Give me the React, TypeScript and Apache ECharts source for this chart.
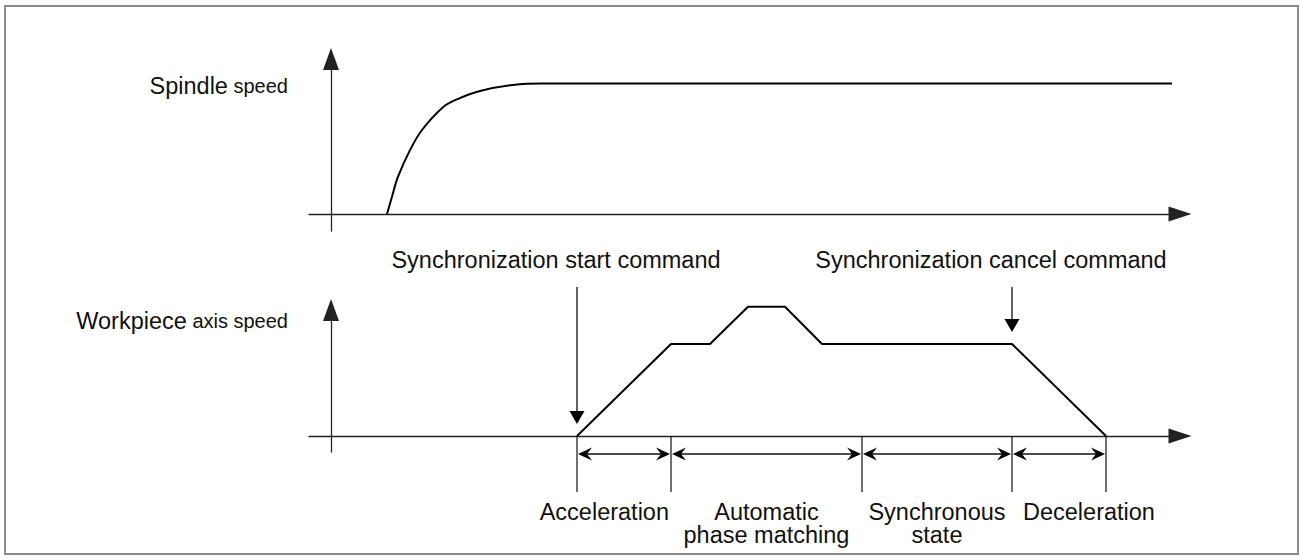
import React, { useEffect, useRef } from "react";
import * as echarts from "echarts";

// ---- data (time in arbitrary units, speed normalised so the steady level = 100) ----
const timeMin = -2.2;
const timeMax = 84.9;

const spindleTime = [5.6, 6.1, 6.7, 7.9, 9.1, 11.2, 12.6, 14.9, 18.2, 21.2, 84.1];
const spindleSpeed = [0, 13.3, 28.6, 49.0, 64.4, 81.8, 87.9, 94.3, 98.9, 100, 100];

const workTime = [24.6, 34.0, 37.9, 41.7, 45.4, 49.1, 68.1, 77.5];
const workSpeed = [0, 100, 100, 140.5, 140.5, 100, 100, 0];

const commandTime = [24.6, 68.1];
const commandSpeed = [0, 100];
const commandNames = ["Synchronization start command", "Synchronization cancel command"];

const phaseBounds = [24.6, 34.0, 53.1, 68.1, 77.5];
const phaseNames = ["Acceleration", "Automatic\nphase matching", "Synchronous\nstate", "Deceleration"];

const spindleRange = [-13, 118.8];
const workRange = [-17.4, 137.0];

const FONT = '"Liberation Sans", Arial, Helvetica, sans-serif';
const AXIS = "#222";
const INK = "#111";

function textStyle(text: string, x: number, y: number, align: string, vAlign: string, extra: any = {}) {
  return {
    text,
    x,
    y,
    align,
    textAlign: align,
    verticalAlign: vAlign,
    textVerticalAlign: vAlign,
    fontFamily: FONT,
    fontSize: 23.5,
    fill: INK,
    ...extra,
  };
}

function buildOption() {
  const axisCommon = {
    type: "value",
    axisTick: { show: false },
    axisLabel: { show: false },
    splitLine: { show: false },
  };
  const xAxes = [0, 1].map((g) => ({
    ...axisCommon,
    gridIndex: g,
    min: timeMin,
    max: timeMax,
    axisLine: {
      show: true,
      onZero: true,
      symbol: ["none", "triangle"],
      symbolSize: [15, 23],
      lineStyle: { color: AXIS, width: 1.3 },
    },
  }));
  const yAxes = [spindleRange, workRange].map((r, g) => ({
    ...axisCommon,
    gridIndex: g,
    min: r[0],
    max: r[1],
    axisLine: {
      show: true,
      onZero: true,
      symbol: ["none", "triangle"],
      symbolSize: [16, 22],
      lineStyle: { color: AXIS, width: 1.3 },
    },
  }));

  const commandSeries = {
    type: "custom",
    name: "commands",
    xAxisIndex: 1,
    yAxisIndex: 1,
    clip: false,
    silent: true,
    data: commandTime.map((t, i) => [t, commandSpeed[i]]),
    encode: { x: 0, y: 1 },
    renderItem: (params: any, api: any) => {
      const t = api.value(0);
      const v = api.value(1);
      const tip = api.coord([t, v]);
      const axisTop = api.coord([t, workRange[1]]);
      const x = tip[0];
      const yTop = axisTop[1] - 23;
      const yTip = tip[1] - 12;
      return {
        type: "group",
        children: [
          {
            type: "line",
            shape: { x1: x, y1: yTop, x2: x, y2: yTip - 10 },
            style: { stroke: INK, lineWidth: 1.3 },
          },
          {
            type: "polygon",
            shape: { points: [[x, yTip], [x - 7.5, yTip - 13], [x + 7.5, yTip - 13]] },
            style: { fill: "#000" },
          },
          {
            type: "text",
            style: textStyle(commandNames[params.dataIndex], x - 21, yTop - 27, "center", "middle"),
          },
        ],
      };
    },
  };

  const lastPhase = phaseNames.length - 1;
  const phaseSeries = {
    type: "custom",
    name: "phases",
    xAxisIndex: 1,
    yAxisIndex: 1,
    clip: false,
    silent: true,
    data: phaseNames.map((_, i) => [phaseBounds[i], phaseBounds[i + 1], i]),
    encode: { x: [0, 1] },
    renderItem: (params: any, api: any) => {
      const i = params.dataIndex;
      const a = api.coord([api.value(0), 0]);
      const b = api.coord([api.value(1), 0]);
      const y0 = a[1];
      const yArr = y0 + 18;
      const yEnd = y0 + 56;
      const xa = a[0] + 1;
      const xb = b[0] - 1;
      const children: any[] = [
        {
          type: "line",
          shape: { x1: a[0], y1: y0, x2: a[0], y2: yEnd },
          style: { stroke: INK, lineWidth: 1.2 },
        },
        {
          type: "line",
          shape: { x1: xa + 4, y1: yArr, x2: xb - 4, y2: yArr },
          style: { stroke: INK, lineWidth: 1.4 },
        },
        {
          type: "polygon",
          shape: { points: [[xa, yArr], [xa + 14, yArr - 6.5], [xa + 9, yArr], [xa + 14, yArr + 6.5]] },
          style: { fill: "#000" },
        },
        {
          type: "polygon",
          shape: { points: [[xb, yArr], [xb - 14, yArr - 6.5], [xb - 9, yArr], [xb - 14, yArr + 6.5]] },
          style: { fill: "#000" },
        },
      ];
      if (i === lastPhase) {
        children.push({
          type: "line",
          shape: { x1: b[0], y1: y0, x2: b[0], y2: yEnd },
          style: { stroke: INK, lineWidth: 1.2 },
        });
      }
      let tx = (a[0] + b[0]) / 2;
      let align = "center";
      if (i === 0) {
        tx = b[0] - 2;
        align = "right";
      } else if (i === lastPhase) {
        tx = a[0] + 11;
        align = "left";
      }
      children.push({
        type: "text",
        style: textStyle(phaseNames[i], tx, y0 + 64, align, "top", { lineHeight: 23.5 }),
      });
      return { type: "group", children };
    },
  };

  const richLabel = {
    big: { fontFamily: FONT, fontSize: 23.5, fill: INK, color: INK },
    small: { fontFamily: FONT, fontSize: 20, fill: INK, color: INK },
  };

  return {
    animation: false,
    backgroundColor: "#fff",
    grid: [
      { left: 309, right: 122, top: 59, bottom: 329 },
      { left: 309, right: 122, top: 310, bottom: 108 },
    ],
    xAxis: xAxes,
    yAxis: yAxes,
    series: [
      {
        type: "line",
        name: "Spindle speed",
        xAxisIndex: 0,
        yAxisIndex: 0,
        data: spindleTime.map((t, i) => [t, spindleSpeed[i]]),
        symbol: "none",
        smooth: 0.35,
        clip: false,
        silent: true,
        lineStyle: { color: "#000", width: 2 },
      },
      {
        type: "line",
        name: "Workpiece axis speed",
        xAxisIndex: 1,
        yAxisIndex: 1,
        data: workTime.map((t, i) => [t, workSpeed[i]]),
        symbol: "none",
        clip: false,
        silent: true,
        lineStyle: { color: "#000", width: 2 },
      },
      commandSeries,
      phaseSeries,
    ],
    graphic: [
      {
        type: "rect",
        z: -10,
        silent: true,
        shape: { x: 5, y: 6, width: 1293, height: 548 },
        style: { fill: "none", stroke: "#8a8a8a", lineWidth: 2 },
      },
      {
        type: "text",
        silent: true,
        style: {
          ...textStyle("{big|Spindle} {small|speed}", 288, 86, "right", "middle"),
          fontSize: 20,
          rich: richLabel,
        },
      },
      {
        type: "text",
        silent: true,
        style: {
          ...textStyle("{big|Workpiece} {small|axis speed}", 288, 321, "right", "middle"),
          fontSize: 20,
          rich: richLabel,
        },
      },
    ],
  };
}

export default function App() {
  const ref = useRef<HTMLDivElement>(null);
  useEffect(() => {
    if (!ref.current) return;
    const chart = echarts.init(ref.current, undefined, { renderer: "svg" });
    chart.setOption(buildOption() as any);
    return () => chart.dispose();
  }, []);
  return (
    <div
      ref={ref}
      style={{ position: "fixed", left: 0, top: 0, width: 1302, height: 560, background: "#fff" }}
    />
  );
}
